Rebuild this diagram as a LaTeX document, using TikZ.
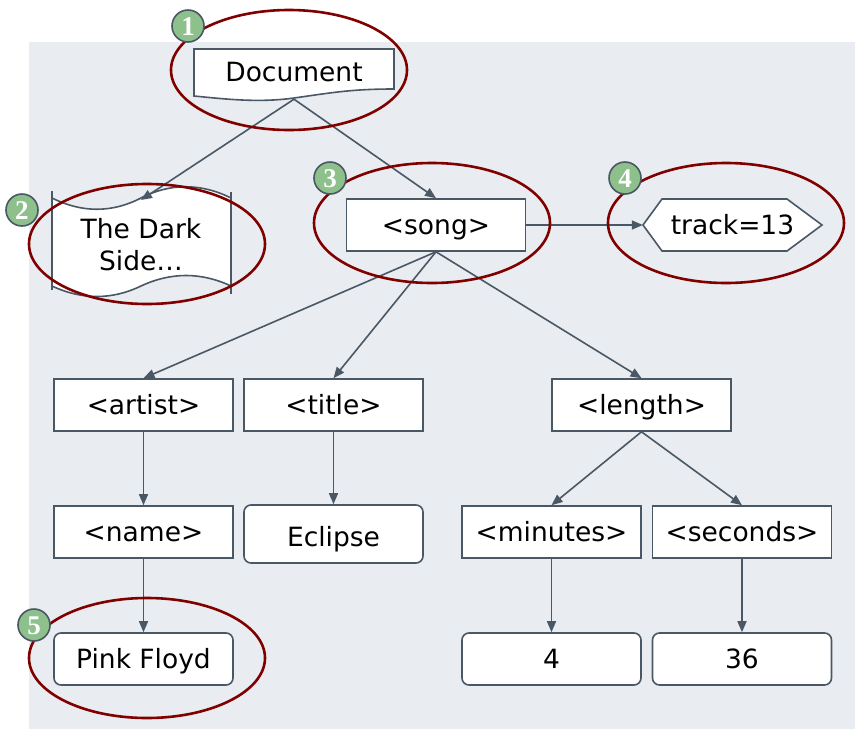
\documentclass[tikz,border=0pt]{standalone}
\usepackage{fontspec}
\setmainfont{DejaVu Sans}
\newfontfamily\badgefont{Liberation Serif}
\usetikzlibrary{arrows.meta,shapes.geometric}
\definecolor{bgc}{HTML}{E9ECF0}
\definecolor{edgec}{HTML}{4A5866}
\definecolor{hlc}{HTML}{800000}
\definecolor{bgreen}{HTML}{8DC08B}
\begin{document}
\begin{tikzpicture}[x=1pt,y=-1pt,
 txt/.style={font=\fontsize{26.5}{32}\selectfont, inner sep=0pt},
 box/.style={txt, draw=edgec, line width=1.6pt, fill=white, rectangle, minimum width=179pt, minimum height=52pt, text height=19pt, text depth=0pt},
 rbox/.style={box, rounded corners=7pt},
 conn/.style={draw=edgec, line width=1.6pt, -{Triangle[length=11pt,width=9pt]}},
 hlell/.style={draw=hlc, line width=2.6pt, ellipse, minimum width=236pt, minimum height=120pt, inner sep=0pt},
 badge/.style={circle, draw=edgec, line width=1.6pt, fill=bgreen, minimum size=32pt, inner sep=0pt, text=white, text height=18pt, text depth=0pt, font=\badgefont\bfseries\fontsize{27}{27}\selectfont},
 shapeline/.style={draw=edgec, line width=1.6pt}]
\useasboundingbox (0,0) rectangle (855,729);
\fill[white] (0,0) rectangle (855,729);
\fill[bgc] (29,42) rectangle (855,729);

% Document shape
\path[shapeline, fill=white] (194,49) -- (394,49) -- (394,89) .. controls (350,89) and (330,93) .. (294,98) .. controls (258,103) and (225,99) .. (194,96) -- cycle;
\node[txt, minimum width=200pt, minimum height=50pt] (doc) at (294,74) {};
\node[txt] (doctext) at (294,72) {Document};

% Tape shape
\fill[white] (52,198) .. controls (82,213) and (112,213) .. (141,198) .. controls (170,183) and (201,183) .. (231,198) -- (231,286) .. controls (201,272) and (171,272) .. (141,286) .. controls (112,300) and (82,300) .. (52,286) -- cycle;
\draw[shapeline] (52,198) .. controls (82,213) and (112,213) .. (141,198) .. controls (170,183) and (201,183) .. (231,198);
\draw[shapeline] (231,286) .. controls (201,272) and (171,272) .. (141,286) .. controls (112,300) and (82,300) .. (52,286);
\draw[shapeline] (52,191) -- (52,290);
\draw[shapeline] (231,192) -- (231,294);
\node[txt, align=center] (dark) at (141,245) {The Dark\\Side…};
\coordinate (darktop) at (141,200);

% song
\node[box] (song) at (436,225) {<song>};

% hexagon
\path[shapeline, fill=white] (643,225) -- (662,199) -- (787,199) -- (822,225) -- (787,251) -- (662,251) -- cycle;
\node[txt, minimum width=179pt, minimum height=52pt, text height=19pt, text depth=0pt] (track) at (732.5,225) {track=13};

\node[box] (artist) at (143.5,405) {<artist>};
\node[box] (title) at (333.5,405) {<title>};
\node[box] (length) at (641.5,405) {<length>};
\node[box] (name) at (143.5,532) {<name>};
\node[rbox, minimum height=58pt, text height=25pt] (eclipse) at (333.5,534) {Eclipse};
\node[box] (minutes) at (551.5,532) {<minutes>};
\node[box] (seconds) at (742,532) {<seconds>};
\node[rbox] (pink) at (143.5,659) {Pink Floyd};
\node[rbox] (four) at (551.5,659) {4};
\node[rbox] (tsix) at (742,659) {36};

% connectors
\draw[conn] (doc.south) -- (darktop);
\draw[conn] (doc.south) -- (song.north);
\draw[conn] (song.east) -- (track.west);
\draw[conn] (song.south) -- (artist.north);
\draw[conn] (song.south) -- (title.north);
\draw[conn] (song.south) -- (length.north);
\draw[conn] (artist.south) -- (name.north);
\draw[conn] (title.south) -- (eclipse.north);
\draw[conn] (length.south) -- (minutes.north);
\draw[conn] (length.south) -- (seconds.north);
\draw[conn] (name.south) -- (pink.north);
\draw[conn] (minutes.south) -- (four.north);
\draw[conn] (seconds.south) -- (tsix.north);

% highlight ellipses
\node[hlell] (e1) at (289,70) {};
\node[hlell] (e2) at (147,244) {};
\node[hlell] (e3) at (432,223) {};
\node[hlell] (e4) at (726,223) {};
\node[hlell] (e5) at (147,658) {};

% badges
\node[badge] (b1) at (188,26) {1};
\node[badge] (b2) at (22,210) {2};
\node[badge] (b3) at (330,178) {3};
\node[badge] (b4) at (625,178) {4};
\node[badge] (b5) at (34,625) {5};
\end{tikzpicture}
\end{document}
